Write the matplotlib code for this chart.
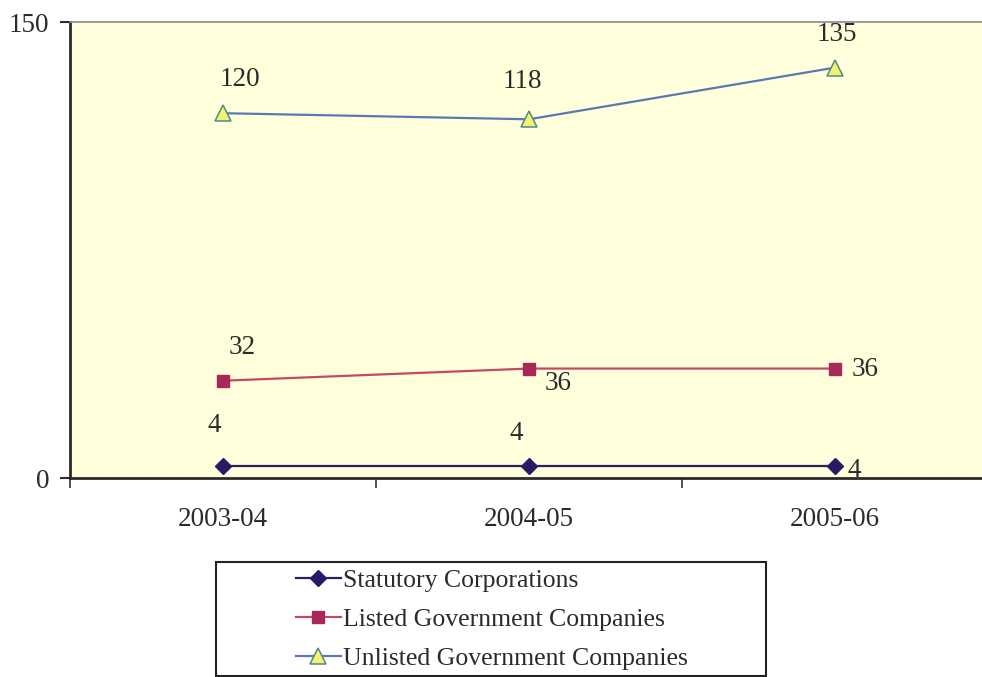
import matplotlib.pyplot as plt
from matplotlib.patches import Rectangle

# Series values by year
years = ['2003-04', '2004-05', '2005-06']
statutory = [4, 4, 4]
listed = [32, 36, 36]
unlisted = [120, 118, 135]

# Label offsets (points) for each value label
stat_offsets = [(-6, 29), (-9, 23), (14, -3)]
listed_offsets = [(14, 24), (21, -11), (22, -1)]
unlisted_offsets = [(12, 24), (-5, 27), (1, 24)]

plt.rcParams['font.family'] = ['Liberation Serif', 'DejaVu Serif']
text_col = '#2b2b2b'

fig = plt.figure(figsize=(9.82, 6.77), dpi=100)
ax = fig.add_axes([70 / 982, 1 - 478 / 677, 918 / 982, 456 / 677])
ax.set_facecolor('#ffffdc')

xs = [i + 0.5 for i in range(len(years))]

series = [
    ('Statutory Corporations', statutory, stat_offsets,
     dict(color='#2c1f5c', marker='D', markersize=8, markerfacecolor='#2a1a66',
          markeredgecolor='#2a1a66')),
    ('Listed Government Companies', listed, listed_offsets,
     dict(color='#c24a68', marker='s', markersize=9, markerfacecolor='#a8285a',
          markeredgecolor='#a8285a')),
    ('Unlisted Government Companies', unlisted, unlisted_offsets,
     dict(color='#5a78b4', marker='^', markersize=11, markerfacecolor='#f4f070',
          markeredgecolor='#4f8a8a', markeredgewidth=1.1)),
]

handles = []
for name, vals, offs, style in series:
    h, = ax.plot(xs, vals, linewidth=1.6, label=name, **style)
    handles.append(h)
    for x, v, (dx, dy) in zip(xs, vals, offs):
        ax.annotate(str(v), (x, v), xytext=(dx, dy), textcoords='offset points',
                    ha='center', va='center', fontsize=19.5, color=text_col)

ax.set_xlim(0, 3)
ax.set_ylim(0, 150)
ax.set_yticks([0, 150])
ax.tick_params(axis='y', labelsize=19.5, colors=text_col, length=7, width=1.5,
               direction='out', pad=8)
ax.set_xticks([0, 1, 2, 3])
ax.set_xticklabels([])
ax.tick_params(axis='x', which='major', length=7, width=1.2, direction='out',
               colors='#333333')
ax.set_xticks(xs, minor=True)
ax.set_xticklabels(years, minor=True)
ax.tick_params(axis='x', which='minor', length=0, labelsize=19.5,
               labelcolor=text_col, pad=21)

for side in ['left', 'bottom']:
    ax.spines[side].set_linewidth(2)
    ax.spines[side].set_color('#2a2a2a')
ax.spines['top'].set_linewidth(1.2)
ax.spines['top'].set_color('#8a8a8a')
ax.spines['right'].set_visible(False)

# Legend box below the chart
fig.patches.append(Rectangle((216 / 982, 1 - 676 / 677), 550 / 982, 114 / 677,
                             transform=fig.transFigure, fill=False,
                             edgecolor='#222222', linewidth=1.5))
leg = fig.legend(handles=handles, loc='upper left',
                 bbox_to_anchor=(296 / 982, 1 - 569 / 677),
                 frameon=False, fontsize=18.5, handlelength=1.75,
                 handletextpad=0.08, labelspacing=0.62, borderpad=0,
                 borderaxespad=0, labelcolor=text_col)

fig.savefig('out.png', dpi=100)
